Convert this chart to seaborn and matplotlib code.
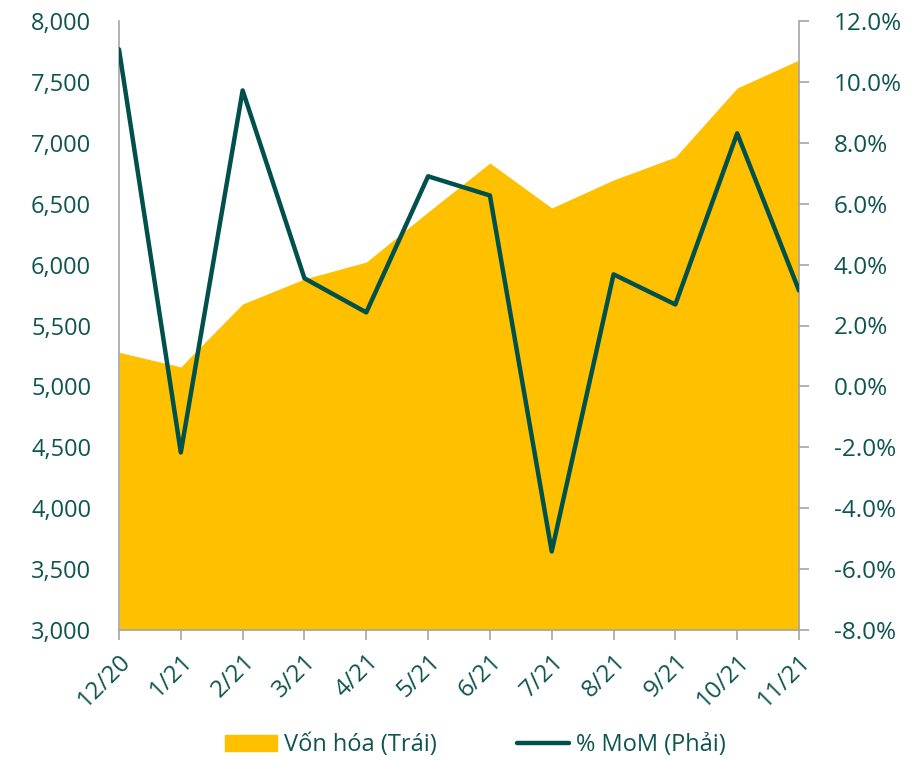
import matplotlib
matplotlib.use("Agg")
import matplotlib.pyplot as plt
import matplotlib.ticker as mticker
from matplotlib.patches import Patch
from matplotlib.lines import Line2D
import seaborn as sns
import pandas as pd
import numpy as np

months = ["12/20", "1/21", "2/21", "3/21", "4/21", "5/21", "6/21", "7/21", "8/21", "9/21", "10/21", "11/21"]
von_hoa = [5280, 5160, 5677, 5882, 6021, 6432, 6834, 6465, 6695, 6883, 7450, 7680]
mom_pct = [11.07, -2.17, 9.72, 3.55, 2.43, 6.90, 6.27, -5.42, 3.68, 2.69, 8.31, 3.15]

GOLD = "#FFC000"
TEAL = "#00504C"
TXT = "#0E5552"
GRAY = "#A6A6A6"

sns.set_theme(style="white")
plt.rcParams['font.family'] = ['Open Sans', 'DejaVu Sans']

df = pd.DataFrame({"x": np.arange(len(months)), "month": months,
                   "von_hoa": von_hoa, "mom": mom_pct})

fig = plt.figure(figsize=(9.17, 7.61), dpi=100)
ax = fig.add_axes([119/917, 1-630/761, (799-119)/917, (630-21)/761])
ax.fill_between(df["x"], df["von_hoa"], 3000, color=GOLD, linewidth=0, zorder=1)
ax.set_xlim(0, 11)
ax.set_ylim(3000, 8000)
ax.yaxis.set_major_locator(mticker.MultipleLocator(500))
ax.yaxis.set_major_formatter(mticker.FuncFormatter(lambda v, p: f"{int(v):,}"))
ax.set_xticks(df["x"])
ax.set_xticklabels(months, rotation=45, ha="right", rotation_mode="anchor")

ax2 = ax.twinx()
sns.lineplot(data=df, x="x", y="mom", ax=ax2, color=TEAL, linewidth=3.2, legend=False, zorder=3)
ax2.set_ylim(-8, 12)
ax2.yaxis.set_major_locator(mticker.MultipleLocator(2))
ax2.yaxis.set_major_formatter(mticker.FuncFormatter(lambda v, p: f"{v:.1f}%"))
ax2.set_xlim(0, 11)
ax2.set_xlabel("")
ax2.set_ylabel("")
ax.set_xlabel("")
ax.set_ylabel("")

for a in (ax, ax2):
    for s in a.spines.values():
        s.set_visible(False)
ax.spines["left"].set_visible(True)
ax.spines["left"].set_color(GRAY)
ax.spines["left"].set_linewidth(1.2)
ax.spines["bottom"].set_visible(True)
ax.spines["bottom"].set_color(GRAY)
ax.spines["bottom"].set_linewidth(1.2)
ax2.spines["right"].set_visible(True)
ax2.spines["right"].set_color(GRAY)
ax2.spines["right"].set_linewidth(1.2)

ax.tick_params(axis="y", left=False, labelsize=17, labelcolor=TXT, pad=14)
ax.tick_params(axis="x", bottom=True, direction="out", length=7, width=1.2, color=GRAY,
               labelsize=17.5, labelcolor=TXT, pad=7)
ax2.tick_params(axis="y", right=True, direction="out", length=7, width=1.2, color=GRAY,
                labelsize=17.5, labelcolor=TXT, pad=18)
ax.grid(False)
ax2.grid(False)

handles = [Patch(facecolor=GOLD, edgecolor=GOLD, label="Vốn hóa (Trái)"),
           Line2D([0], [0], color=TEAL, linewidth=3.2, label="% MoM (Phải)")]
leg = fig.legend(handles=handles, loc="center", bbox_to_anchor=(475/917, 1-745/761), ncol=2,
                 frameon=False, fontsize=17, handlelength=2.2, handleheight=0.65,
                 columnspacing=3.4, handletextpad=0.3)
for t in leg.get_texts():
    t.set_color(TXT)

fig.savefig("out.png", dpi=100)
